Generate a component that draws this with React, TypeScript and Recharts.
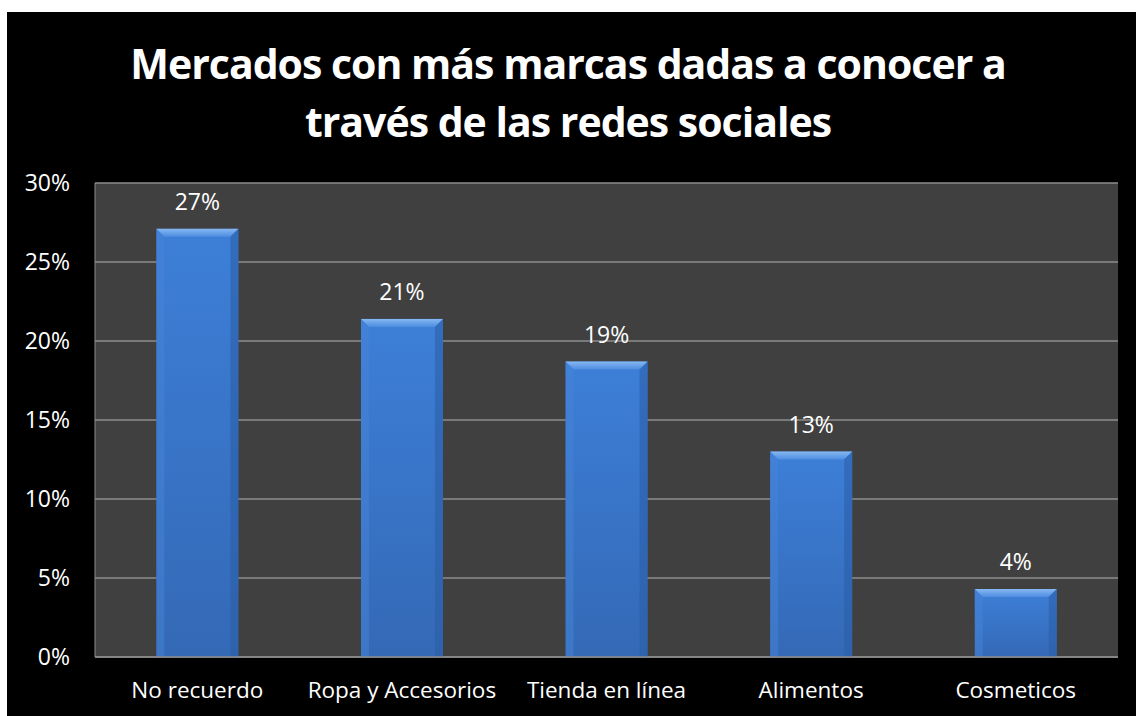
import React from "react";
import {
  BarChart,
  Bar,
  XAxis,
  YAxis,
  CartesianGrid,
  LabelList,
} from "recharts";

const categories = [
  "No recuerdo",
  "Ropa y Accesorios",
  "Tienda en línea",
  "Alimentos",
  "Cosmeticos",
];
const shares = [27.1, 21.4, 18.7, 13.0, 4.3];
const yTicks = [0, 5, 10, 15, 20, 25, 30];
const titleLines = [
  "Mercados con más marcas dadas a conocer a",
  "través de las redes sociales",
];

const data = categories.map((name, i) => ({ name, value: shares[i] }));

const FONT = "'Open Sans', 'Noto Sans', sans-serif";

// bar with a bevelled top edge, like the office chart style
function BevelBar(props: any) {
  const { x, y, width, height } = props;
  if (!height || height <= 0) return null;
  const b = Math.min(8, height / 2, width / 2);
  return (
    <g>
      <rect x={x} y={y} width={width} height={height} fill="url(#barBody)" />
      <polygon
        points={`${x},${y} ${x + width},${y} ${x + width - b},${y + b} ${x + b},${y + b}`}
        fill="url(#barTop)"
      />
      <polygon
        points={`${x},${y} ${x + b},${y + b} ${x + b},${y + height} ${x},${y + height}`}
        fill="#4583d8"
        opacity={0.5}
      />
      <polygon
        points={`${x + width},${y} ${x + width - b},${y + b} ${x + width - b},${y + height} ${x + width},${y + height}`}
        fill="#2a5ca6"
        opacity={0.55}
      />
    </g>
  );
}

function TopLabel(props: any) {
  const { x, y, width, value } = props;
  return (
    <text
      x={x + width / 2}
      y={y - 19}
      textAnchor="middle"
      fill="#ffffff"
      fontSize={23}
      fontFamily={FONT}
    >
      {`${Math.round(value)}%`}
    </text>
  );
}

export default function App() {
  return (
    <div
      style={{
        position: "absolute",
        left: 0,
        top: 0,
        width: 1136,
        height: 716,
        background: "#ffffff",
        overflow: "hidden",
      }}
    >
      <div
        style={{
          position: "absolute",
          left: 7,
          top: 12,
          width: 1129,
          height: 704,
          background: "#000000",
        }}
      >
        <svg
          width={1129}
          height={160}
          style={{ position: "absolute", left: 0, top: 0 }}
        >
          {titleLines.map((line, i) => (
            <text
              key={i}
              x={561}
              y={67 + i * 58}
              textAnchor="middle"
              fill="#ffffff"
              fontSize={41}
              letterSpacing={-1}
              fontWeight="bold"
              fontFamily={FONT}
            >
              {line}
            </text>
          ))}
        </svg>
        <BarChart
          width={1129}
          height={704}
          data={data}
          margin={{ top: 171, right: 18, left: 0, bottom: 0 }}
          barCategoryGap="30%"
          style={{ position: "absolute", left: 0, top: 0 }}
        >
          <defs>
            <linearGradient id="barBody" x1="0" y1="0" x2="0" y2="1">
              <stop offset="0%" stopColor="#3d7fd8" />
              <stop offset="100%" stopColor="#3469b6" />
            </linearGradient>
            <linearGradient id="barTop" x1="0" y1="0" x2="0" y2="1">
              <stop offset="0%" stopColor="#86b8f2" />
              <stop offset="100%" stopColor="#4d8ce0" />
            </linearGradient>
          </defs>
          <CartesianGrid
            vertical={false}
            stroke="#8c8c8c"
            strokeWidth={1.5}
            fill="#404040"
            fillOpacity={1}
          />
          <XAxis
            dataKey="name"
            height={59}
            axisLine={{ stroke: "#8c8c8c", strokeWidth: 1.5 }}
            tickLine={false}
            tickMargin={19}
            tick={{ fill: "#ffffff", fontSize: 22.5, fontFamily: FONT }}
            interval={0}
          />
          <YAxis
            width={88}
            domain={[0, 30]}
            ticks={yTicks}
            tickFormatter={(v: number) => `${v}%`}
            axisLine={{ stroke: "#8c8c8c", strokeWidth: 1 }}
            tickLine={false}
            tickMargin={19}
            tick={{ fill: "#ffffff", fontSize: 23, fontFamily: FONT }}
          />
          <Bar
            dataKey="value"
            shape={<BevelBar />}
            isAnimationActive={false}
          >
            <LabelList dataKey="value" content={<TopLabel />} />
          </Bar>
        </BarChart>
      </div>
    </div>
  );
}
